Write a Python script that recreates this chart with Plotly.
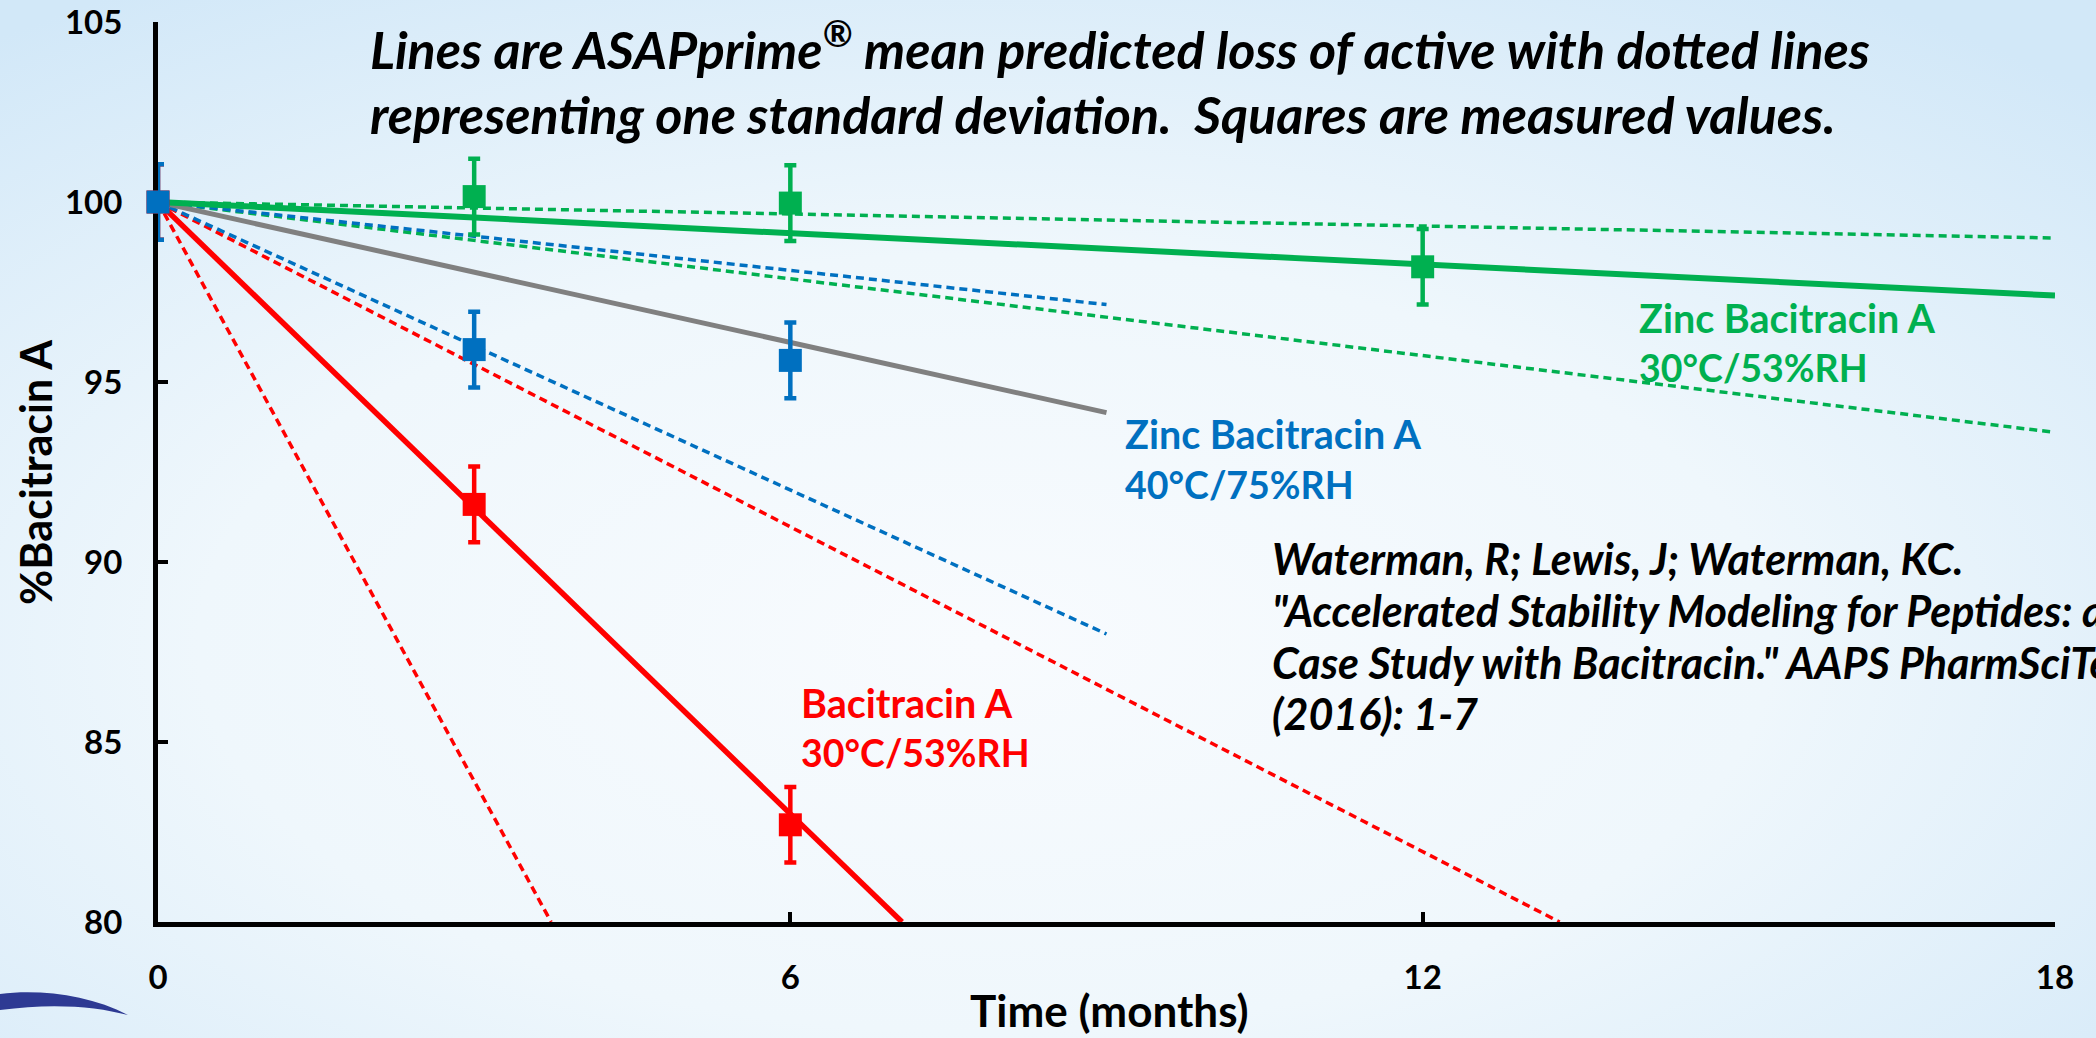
import base64
import plotly.graph_objects as go

# ---------------- data ----------------
# measured values (months, %Bacitracin A)
months_meas = [0, 3, 6]
green_meas_t = [3, 6, 12]
green_meas_y = [100.15, 99.97, 98.2]
blue_meas_y = [100.0, 95.9, 95.6]
red_meas_y = [100.0, 91.6, 82.7]
err_sd = 1.05

# ASAPprime predicted lines (mean and +/- 1 SD)
green_t = [0, 18]
green_mean = [100, 97.4]
green_hi = [100, 99.0]
green_lo = [100, 93.6]

blue_t = [0, 9]
blue_mean = [100, 94.15]
blue_hi = [100, 97.15]
blue_lo = [100, 88.0]

red_mean_t = [0, 7.06]
red_mean = [100, 80]
red_hi_t = [0, 13.3]
red_hi = [100, 80]
red_lo_t = [0, 3.73]
red_lo = [100, 80]

x_ticks = [0, 6, 12, 18]
y_ticks = [80, 85, 90, 95, 100, 105]

title_lines = [
    "Lines are ASAPprime<sup>®</sup> mean predicted loss of active with dotted lines",
    "representing one standard deviation.\u00a0 Squares are measured values.",
]
citation_lines = [
    "Waterman, R; Lewis, J; Waterman, KC.",
    "\"Accelerated Stability Modeling for Peptides: a",
    "Case Study with Bacitracin.\" AAPS PharmSciTech",
    "(2016): 1-7",
]

# ---------------- style ----------------
GREEN = "#00b050"
BLUE = "#0070c0"
RED = "#ff0000"
GRAY = "#808080"
FONT = "Lato"
W, H = 2096, 1038
ML, MR, MT, MB = 158, 41, 22, 116
DASH = "8px,5px"

fig = go.Figure()

def line(x, y, color, width, dash=None):
    fig.add_trace(go.Scatter(x=x, y=y, mode="lines", cliponaxis=False,
                             line=dict(color=color, width=width, dash=dash or "solid"),
                             showlegend=False, hoverinfo="skip"))

# dashed SD lines
line(red_lo_t, red_lo, RED, 3.5, DASH)
line(red_hi_t, red_hi, RED, 3.5, DASH)
line(blue_t, blue_lo, BLUE, 3.5, DASH)
line(green_t, green_lo, GREEN, 3.5, DASH)
line(blue_t, blue_hi, BLUE, 3.5, DASH)
line(green_t, green_hi, GREEN, 3.5, DASH)
# mean lines
line(red_mean_t, red_mean, RED, 5.5)
line(blue_t, blue_mean, GRAY, 5)
line(green_t, green_mean, GREEN, 6)

def meas(x, y, color):
    fig.add_trace(go.Scatter(
        x=x, y=y, mode="markers", cliponaxis=False, showlegend=False,
        marker=dict(symbol="square", size=23, color=color),
        error_y=dict(type="constant", value=err_sd, color=color, thickness=4.5, width=6),
    ))

meas(months_meas, red_meas_y, RED)
meas(green_meas_t, green_meas_y, GREEN)
meas(months_meas, blue_meas_y, BLUE)

# ---------------- annotations ----------------
def txt(x, y, s, color, size, italic=False, xref="x", yref="y", xanchor="left", angle=0):
    fig.add_annotation(x=x, y=y, xref=xref, yref=yref, text=s, showarrow=False,
                       xanchor=xanchor, yanchor="middle", textangle=angle,
                       font=dict(family=FONT, size=size, color=color, weight="bold",
                                 style="italic" if italic else "normal"))

# title (two lines)
for yy, s in zip([104.36, 102.45], title_lines):
    txt(1.99, yy, s, "black", 52, italic=True)

# series labels
txt(14.03, 96.78, "Zinc Bacitracin A", GREEN, 39.5)
txt(14.03, 95.39, "30°C/53%RH", GREEN, 37.5)
txt(9.16, 93.58, "Zinc Bacitracin A", BLUE, 39.5)
txt(9.16, 92.14, "40°C/75%RH", BLUE, 37.5)
txt(6.08, 86.11, "Bacitracin A", RED, 39.5)
txt(6.08, 84.72, "30°C/53%RH", RED, 37.5)

# citation
for yy, s in zip([90.1, 88.66, 87.22, 85.78], citation_lines):
    txt(10.55, yy, s, "black", 43, italic=True)

# axis titles (placed in paper coordinates)
pw, ph = W - ML - MR, H - MT - MB
txt((1109 - ML) / pw, (H - MB - 1010) / ph, "Time (months)", "black", 44,
    xref="paper", yref="paper", xanchor="center")
txt((35 - ML) / pw, (H - MB - 472) / ph, "%Bacitracin A", "black", 43,
    xref="paper", yref="paper", xanchor="center", angle=-90)

# ---------------- background ----------------
svg = f'''<svg xmlns="http://www.w3.org/2000/svg" width="{W}" height="{H}" viewBox="0 0 {W} {H}">
<defs>
<radialGradient id="g" cx="0.47" cy="0.62" r="0.75" gradientUnits="objectBoundingBox">
<stop offset="0" stop-color="#f8fbfe"/>
<stop offset="0.5" stop-color="#eff7fc"/>
<stop offset="1" stop-color="#d2e8f8"/>
</radialGradient>
</defs>
<rect width="{W}" height="{H}" fill="url(#g)"/>
<path d="M0,994 C40,989 90,995 128,1015 C95,1006 50,1003 0,1010 Z" fill="#2e3a93"/>
</svg>'''
src = "data:image/svg+xml;base64," + base64.b64encode(svg.encode()).decode()
fig.add_layout_image(dict(source=src, xref="paper", yref="paper",
                          x=-ML / pw, y=1 + MT / ph, sizex=W / pw, sizey=H / ph,
                          xanchor="left", yanchor="top", sizing="stretch", layer="below"))

axis_common = dict(showline=True, linewidth=5, linecolor="black", ticks="inside",
                   ticklen=10, tickwidth=4, tickcolor="black", showgrid=False,
                   zeroline=False, layer="below traces", automargin=False,
                   tickfont=dict(family=FONT, size=33, color="black", weight="bold"))

fig.update_layout(
    width=W, height=H,
    margin=dict(l=ML, r=MR, t=MT, b=MB, autoexpand=False),
    paper_bgcolor="#d8ebf9", plot_bgcolor="rgba(0,0,0,0)",
    xaxis=dict(range=[0, 18], tickvals=x_ticks, ticklabelstandoff=22, **axis_common),
    yaxis=dict(range=[80, 105], tickvals=y_ticks, ticklabelstandoff=24, **axis_common),
    showlegend=False,
)

fig.write_html("out.html", config={"displayModeBar": False})
